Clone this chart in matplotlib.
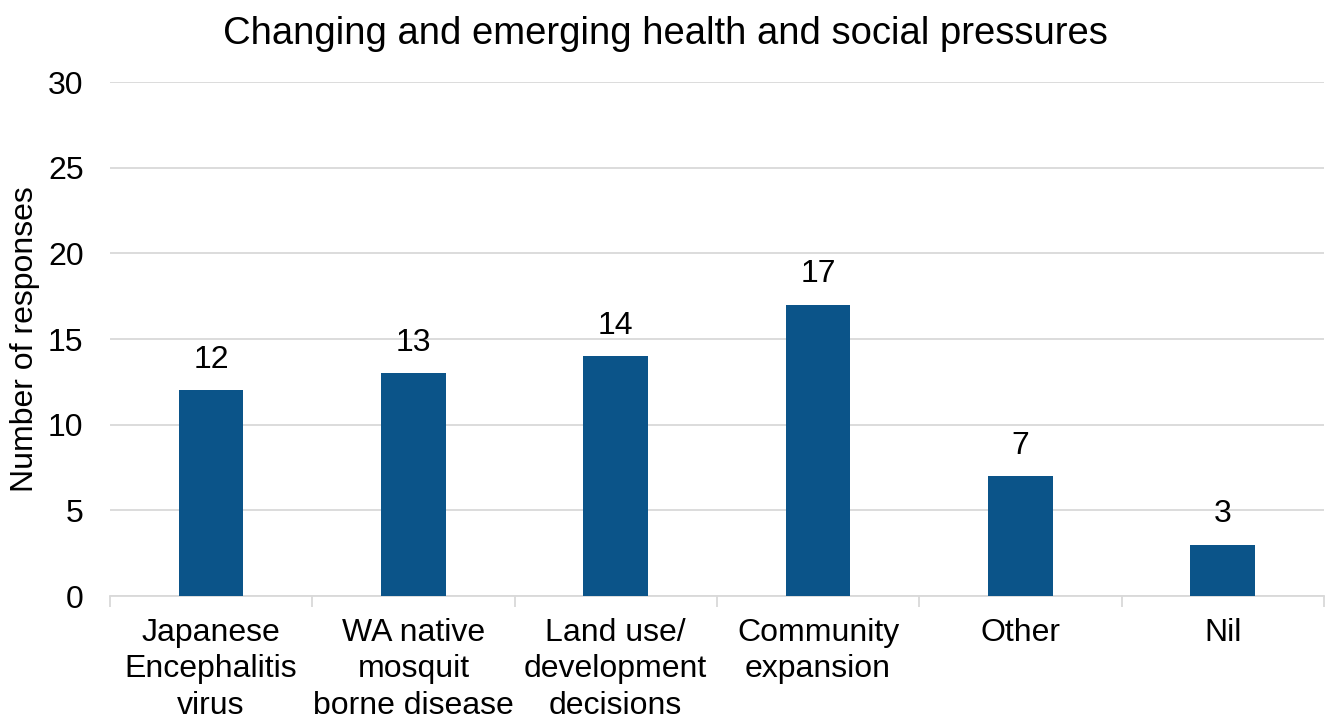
import numpy as np
import matplotlib.pyplot as plt

plt.rcParams['font.family'] = ['Liberation Sans', 'DejaVu Sans']

# Data
categories = ['Japanese\nEncephalitis\nvirus', 'WA native\nmosquit\nborne disease',
              'Land use/\ndevelopment\ndecisions', 'Community\nexpansion', 'Other', 'Nil']
responses = [12, 13, 14, 17, 7, 3]

bar_color = '#0B5489'
grid_color = '#D9D9D9'

fig = plt.figure(figsize=(13.31, 7.2), dpi=100)
ax = fig.add_axes([0.0826, 0.1722, 0.912, 0.7139])

x = np.arange(len(categories))
bars = ax.bar(x, responses, width=0.32, color=bar_color, zorder=3)

for xi, v in zip(x, responses):
    ax.text(xi, v + 0.9, str(v), ha='center', va='bottom', fontsize=23, color='black')

ax.set_xlim(-0.5, len(categories) - 0.5)
ax.set_ylim(0, 30)
ax.set_yticks(np.arange(0, 31, 5))
ax.yaxis.grid(True, color=grid_color, linewidth=1.3, zorder=0)
ax.set_axisbelow(True)

ax.set_xticks(x)
ax.set_xticklabels(categories, fontsize=23, linespacing=1.27)
ax.tick_params(axis='x', which='major', length=0, pad=16)
ax.set_xticks(np.arange(-0.5, len(categories), 1), minor=True)
ax.tick_params(axis='x', which='minor', length=8, width=1.3, color=grid_color)
ax.tick_params(axis='y', length=0, labelsize=23, pad=19)

for s in ['top', 'right', 'left']:
    ax.spines[s].set_visible(False)
ax.spines['bottom'].set_color(grid_color)
ax.spines['bottom'].set_linewidth(1.3)

ax.set_ylabel('Number of responses', fontsize=23, labelpad=6)
fig.suptitle('Changing and emerging health and social pressures', fontsize=27.5, x=0.5, y=0.978)

fig.savefig('out.png', dpi=100)
